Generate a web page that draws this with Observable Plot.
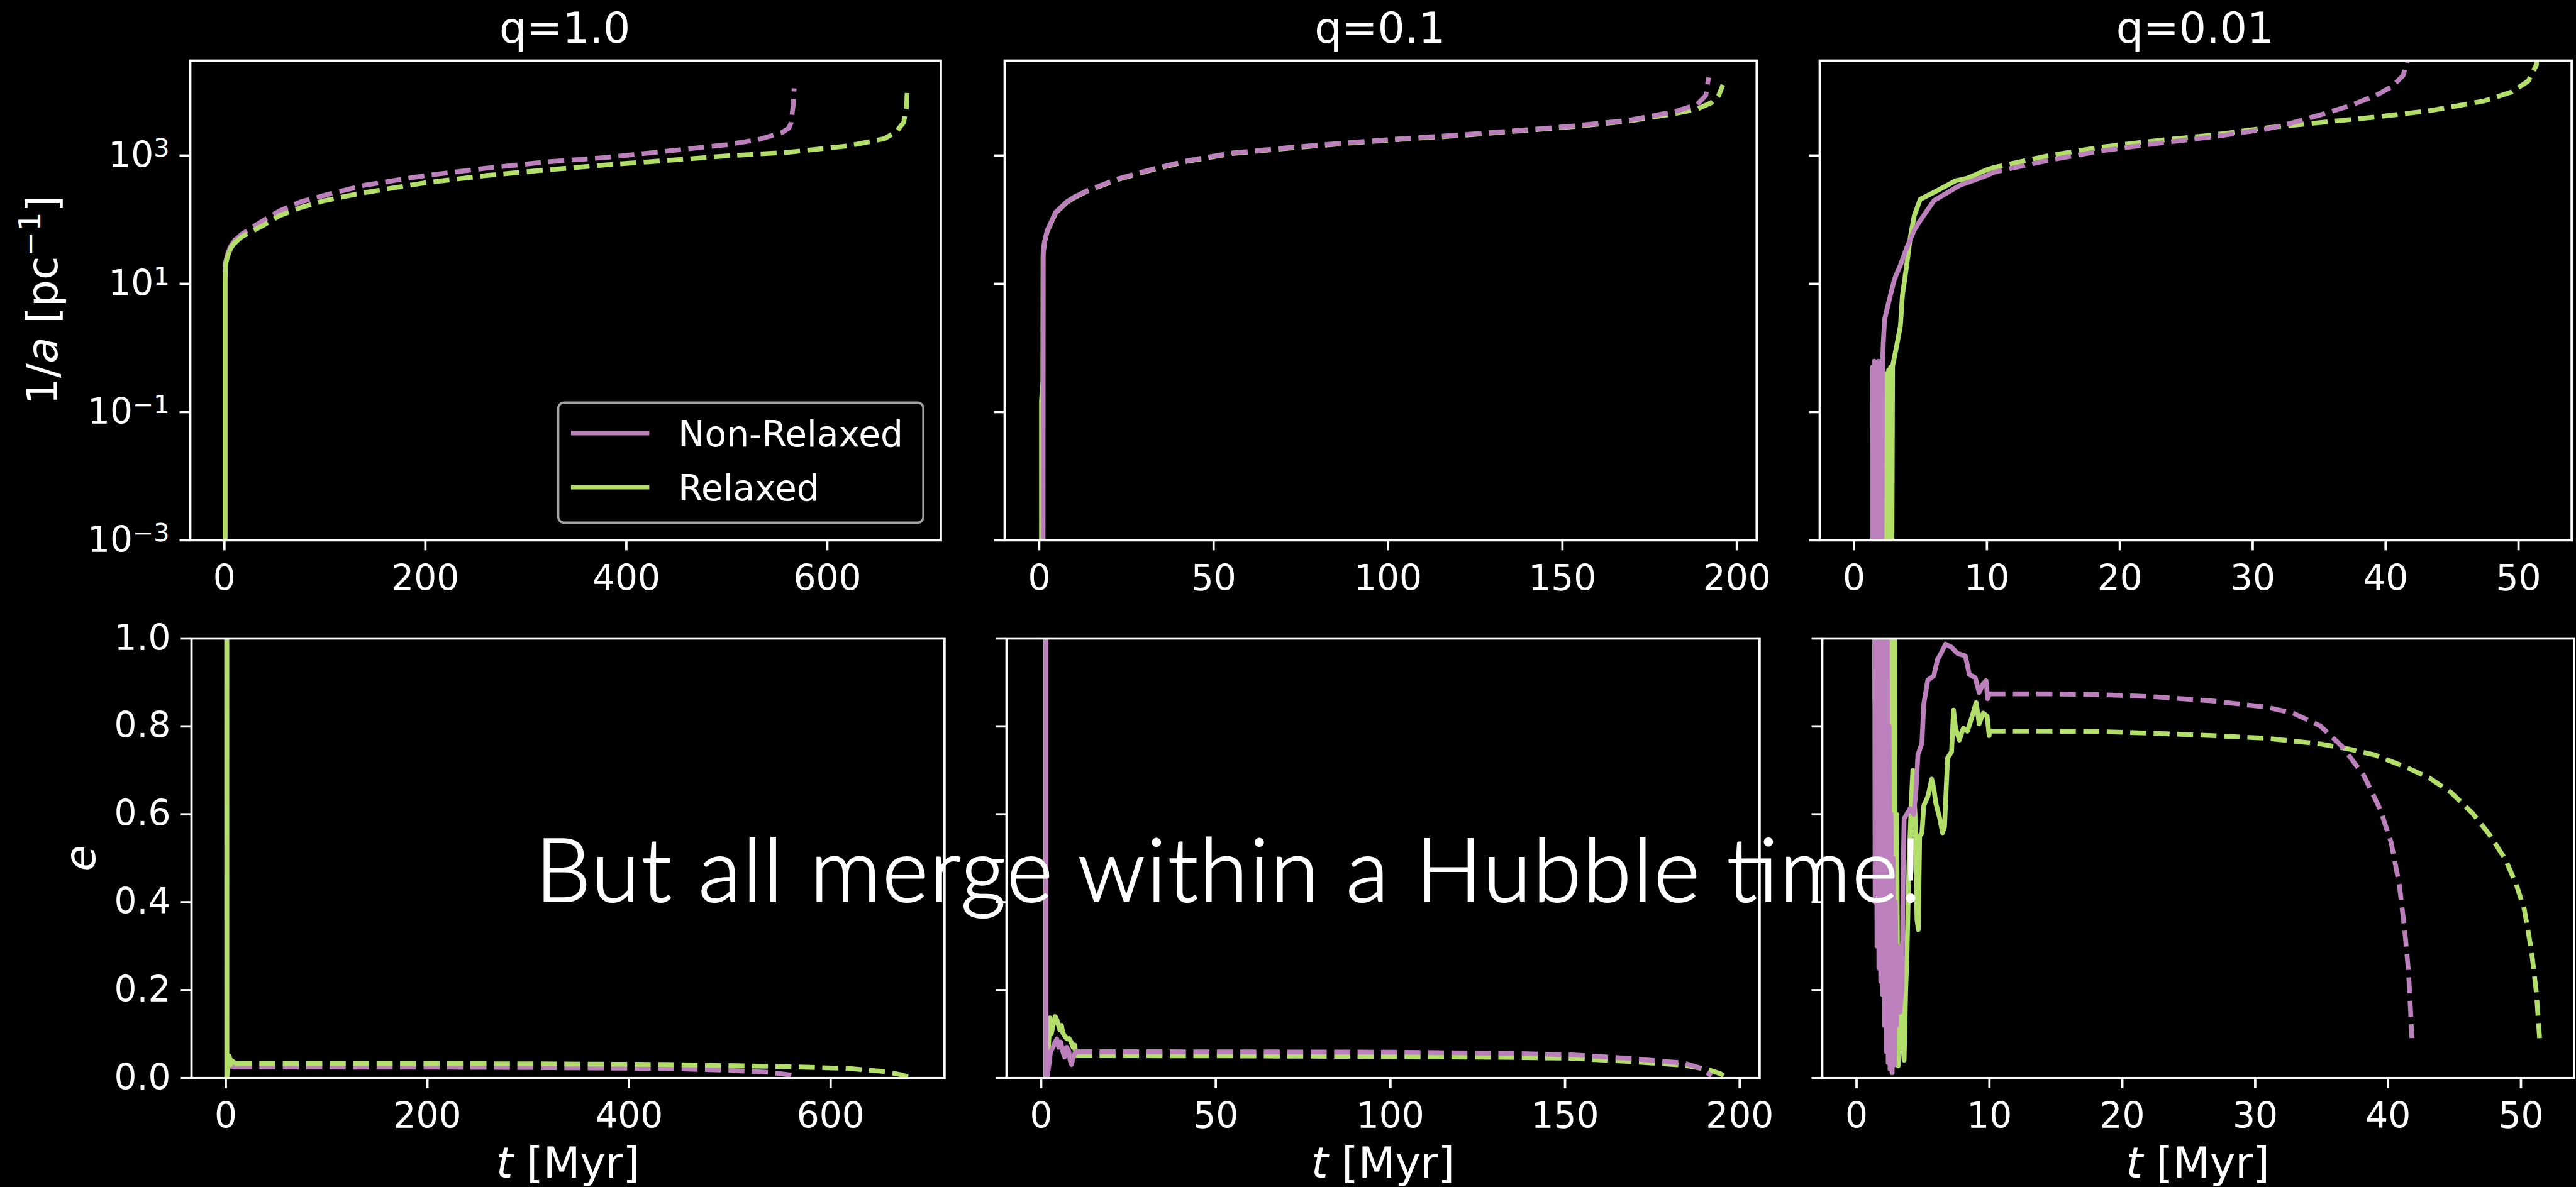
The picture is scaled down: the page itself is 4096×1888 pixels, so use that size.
<!DOCTYPE html>
<html><head><meta charset="utf-8">
<script src="https://cdn.jsdelivr.net/npm/d3@7"></script>
<script src="https://cdn.jsdelivr.net/npm/@observablehq/plot@0.6"></script>
<style>
html,body{margin:0;padding:0;background:#000;overflow:hidden;}
#fig{position:relative;width:4096px;height:1888px;background:#000;overflow:hidden;}
</style></head><body><div id="fig"></div>
<script>
// ---------------- DATA ----------------
const massRatios = ["q=1.0", "q=0.1", "q=0.01"];
const seriesNames = ["Non-Relaxed", "Relaxed"];
const seriesColors = ["#bc80bd", "#b3de69"];

const xTicksQ1 = [0, 200, 400, 600];
const xTicksQ01 = [0, 50, 100, 150, 200];
const xTicksQ001 = [0, 10, 20, 30, 40, 50];
const yTicksInvA = [1e-3, 1e-1, 1e1, 1e3];
const yTickLabelsInvA = ["10^−3", "10^−1", "10^1", "10^3"];
const yTicksEcc = [0, 0.2, 0.4, 0.6, 0.8, 1.0];
const yTickLabelsEcc = ["0.0", "0.2", "0.4", "0.6", "0.8", "1.0"];
const xDomainQ1 = [-34, 713], xDomainQ01 = [-9.9, 205.7], xDomainQ001 = [-2.58, 54.0];
const yDomainInvA = [1e-3, 30200], yDomainEcc = [0, 1];

// 1/a [pc^-1] vs t [Myr]; "sim" = solid (N-body), "ext" = dashed (extrapolation)
const invA_q1_nr_sim = [[0.6,1e-5],[0.6,11],[0.75,15],[1.3,22],[3.2,29],[6,38],[9.3,45],[10,47]];
const invA_q1_nr_ext = [[10,47],[17,59],[39,98],[55,138],[76,190],[100,241],[139,343],[199,486],[259,631],[320,795],[380,935],[440,1170],[500,1475],[531,1770],[555,2290],[562,2710],[564,3290],[566,6000],[567,11200]];
const invA_q1_r_sim = [[0.65,1e-5],[0.65,11],[0.8,15],[1.4,21],[3.4,27.5],[6,35],[9.3,42],[10,43]];
const invA_q1_r_ext = [[10,43],[17,54],[39,82],[55,116],[76,155],[100,199],[139,264],[199,375],[259,486],[320,597],[380,716],[440,836],[500,989],[561,1125],[621,1420],[657,1836],[669,2390],[676,3290],[679,6000],[679.5,11200]];

const invA_q01_nr_sim = [[1.1,1e-5],[1.14,30],[1.5,45],[2.3,68],[4.7,130],[8,192],[10,224]];
const invA_q01_nr_ext = [[10,224],[13.7,283],[22.6,433],[32.4,612],[42.2,826],[55.2,1096],[71.5,1331],[87.7,1575],[104,1836],[120.3,2091],[136.5,2443],[152.8,2884],[169.1,3550],[182.1,4842],[188.6,6266],[191.1,8644],[191.9,16500]];
const invA_q01_r_sim = [[0.65,1e-5],[0.65,0.15],[1.05,0.3],[1.1,28],[1.5,44],[2.3,66],[4.7,127],[8,188],[10,220]];
const invA_q01_r_ext = [[10,220],[13.7,278],[22.6,425],[32.4,600],[42.2,810],[55.2,1075],[71.5,1305],[87.7,1545],[104,1800],[120.3,2050],[136.5,2395],[152.8,2820],[169.1,3450],[182.1,4500],[188.6,5300],[192.7,6680],[194.8,8650],[196,12700]];

const invA_q001_nr_sim = [[1.35,1e-5],[1.38,0.5],[1.45,1e-5],[1.52,0.62],[1.6,1e-5],[1.68,0.6],[1.76,1e-5],[1.84,0.62],[1.92,1e-5],[2.0,0.6],[2.08,1e-5],[2.15,0.62],[2.2,1.2],[2.3,2.8],[2.6,5.1],[3.04,11.8],[3.49,19.6],[3.94,35.4],[4.53,69],[4.98,97],[6.02,199],[7.96,344],[9.0,410],[10,490]];
const invA_q001_nr_ext = [[10,490],[10.57,553],[14.67,847],[18.77,1199],[22.87,1556],[26.97,1960],[31.06,2600],[33.1,3290],[35.16,4360],[37.2,5880],[39.26,8650],[40.49,11970],[41.31,17600],[41.64,29500],[41.8,100000]];
const invA_q001_r_sim = [[1.36,1e-5],[1.38,0.136],[1.4,1e-5],[2.15,1e-5],[2.2,0.3],[2.25,1e-5],[2.32,0.35],[2.38,1e-5],[2.46,0.4],[2.52,1e-5],[2.6,0.45],[2.66,1e-5],[2.75,0.5],[2.82,1e-5],[2.9,0.52],[3.19,1.03],[3.49,2.2],[3.64,6.6],[3.94,18],[4.24,54],[4.53,115],[4.98,208],[6.02,267],[7.66,406],[8.53,444],[10,600]];
const invA_q001_r_ext = [[10,600],[10.57,655],[14.67,1002],[18.77,1366],[22.87,1720],[26.97,2090],[31.06,2710],[35.16,3290],[39.26,3990],[43.36,5030],[47.45,7130],[49.5,9860],[50.73,14500],[51.35,25900],[51.45,100000]];

// e vs t [Myr]
const ecc_q1_nr_sim = [[0.9,1.3],[0.95,0],[1.5,0.01],[2.5,0.03],[4,0.028],[6,0.026],[8,0.025],[10,0.025]];
const ecc_q1_nr_ext = [[10,0.025],[100,0.025],[200,0.0248],[300,0.024],[437,0.022],[497,0.018],[540,0.013],[560,0.007],[566,0.002]];
const ecc_q1_r_sim = [[1.0,1.3],[1.05,0],[1.5,0.02],[2.5,0.045],[3.5,0.05],[4.5,0.03],[6,0.04],[8,0.036],[10,0.033]];
const ecc_q1_r_ext = [[10,0.033],[100,0.033],[200,0.033],[300,0.0325],[437,0.031],[557,0.026],[617,0.022],[653,0.015],[671,0.007],[677,0.002]];

const ecc_q01_nr_sim = [[1.4,1.3],[1.4,0.007],[1.7,0.0],[2.2,0.028],[2.7,0.06],[3.3,0.069],[3.9,0.08],[4.5,0.089],[5.0,0.07],[5.6,0.082],[6.2,0.06],[6.7,0.048],[7.3,0.07],[7.9,0.062],[8.3,0.04],[8.7,0.031],[9.2,0.05],[9.6,0.055],[10,0.06]];
const ecc_q01_nr_ext = [[10,0.06],[50,0.0598],[100,0.059],[135.6,0.056],[151.8,0.053],[168,0.045],[184.2,0.034],[189,0.022],[191.9,0.005]];
const ecc_q01_r_sim = [[1.3,1.3],[1.3,0.0],[1.8,0.02],[2.5,0.137],[2.9,0.1],[3.3,0.116],[4.0,0.14],[4.5,0.133],[5.3,0.11],[5.8,0.12],[6.2,0.103],[6.8,0.095],[7.4,0.089],[8.0,0.09],[8.6,0.082],[9.1,0.07],[9.6,0.075],[10,0.051]];
const ecc_q01_r_ext = [[10,0.051],[50,0.0505],[100,0.049],[135.6,0.047],[151.8,0.045],[168,0.038],[184.2,0.029],[190.7,0.020],[194.5,0.01],[196,0.002]];

const ecc_q001_nr_sim = [[1.35,1.3],[1.4,0.4],[1.47,1.3],[1.54,0.3],[1.61,1.3],[1.68,0.25],[1.75,1.3],[1.82,0.22],[1.89,1.3],[1.96,0.19],[2.03,1.3],[2.1,0.12],[2.17,1.3],[2.24,0.06],[2.31,1.1],[2.38,0.035],[2.45,0.8],[2.52,0.02],[2.6,0.6],[2.68,0.012],[2.76,0.5],[2.84,0.03],[2.92,0.4],[3.0,0.12],[3.1,0.3],[3.25,0.15],[3.43,0.205],[3.5,0.45],[3.58,0.59],[4.02,0.613],[4.3,0.6],[4.47,0.653],[4.62,0.735],[4.92,0.762],[5.06,0.851],[5.36,0.905],[5.81,0.915],[6.1,0.953],[6.25,0.96],[6.7,0.987],[7.15,0.98],[7.6,0.966],[8.19,0.96],[8.49,0.918],[8.93,0.911],[9.23,0.877],[9.53,0.897],[9.75,0.904],[9.86,0.863],[10,0.874]];
const ecc_q001_nr_ext = [[10,0.874],[14.45,0.874],[18.54,0.872],[22.63,0.867],[26.73,0.858],[30.82,0.844],[32.86,0.83],[34.91,0.801],[36.55,0.754],[38.18,0.688],[39.41,0.611],[40.23,0.536],[40.84,0.441],[41.25,0.337],[41.54,0.242],[41.7,0.148],[41.79,0.091]];
const ecc_q001_r_sim = [[1.36,1.3],[1.38,0.86],[1.4,1.3],[2.15,1.3],[2.2,0.55],[2.26,1.3],[2.32,0.52],[2.38,1.3],[2.46,0.5],[2.54,1.3],[2.62,0.45],[2.7,1.3],[2.78,0.35],[2.86,1.0],[2.94,0.2],[3.02,0.6],[3.13,0.028],[3.25,0.3],[3.4,0.1],[3.58,0.041],[3.7,0.2],[3.8,0.286],[3.95,0.49],[4.17,0.66],[4.24,0.70],[4.4,0.6],[4.55,0.36],[4.65,0.338],[4.75,0.55],[4.92,0.558],[5.06,0.62],[5.36,0.64],[5.66,0.68],[5.81,0.66],[5.96,0.626],[6.25,0.592],[6.47,0.558],[6.62,0.572],[6.85,0.728],[7.15,0.742],[7.3,0.837],[7.45,0.796],[7.74,0.769],[8.04,0.796],[8.34,0.789],[8.64,0.817],[9.0,0.854],[9.23,0.806],[9.53,0.83],[9.83,0.823],[9.98,0.779],[10,0.789]];
const ecc_q001_r_ext = [[10,0.789],[14.45,0.789],[18.54,0.788],[22.63,0.784],[26.73,0.779],[30.82,0.773],[34.91,0.76],[36.96,0.749],[39.0,0.735],[41.45,0.706],[43.09,0.683],[44.73,0.65],[46.37,0.602],[47.6,0.555],[48.82,0.498],[49.64,0.441],[50.25,0.384],[50.79,0.29],[51.16,0.195],[51.4,0.091]];

const message = "But all merge within a Hubble time!";

// ---------------- LAYOUT ----------------
const FONT = "'DejaVu Sans', sans-serif";
const FS = 56.6, FS_LABEL = 68;
const LW = 7.6, AXW = 3.7, TICK = 16.5;
const fig = document.getElementById("fig");

const rows = {top: {y0: 96.1, y1: 859.0}, bottom: {y0: 1015.2, y1: 1714.5}};
const colsTop = [[301.5, 1495.0], [1596.6, 2792.4], [2892.6, 4088.2]];
const colsBot = [[304.3, 1501.7], [1600.3, 2797.7], [2896.9, 4092.4]];

// split "base^sup" text into a base and a raised, smaller superscript (mathtext style)
function superscriptify(textEl) {
  const s = textEl.textContent;
  const k = s.indexOf("^");
  if (k < 0) return;
  const base = s.slice(0, k), sup = s.slice(k + 1);
  while (textEl.firstChild) textEl.removeChild(textEl.firstChild);
  const ns = "http://www.w3.org/2000/svg";
  const t1 = document.createElementNS(ns, "tspan"); t1.textContent = base; textEl.appendChild(t1);
  const t2 = document.createElementNS(ns, "tspan"); t2.textContent = sup;
  t2.setAttribute("dy", "-17"); t2.style.fontSize = "70%";
  textEl.appendChild(t2);
}

// background text layer
const bgLayer = d3.select(fig).append("svg")
  .attr("width", 4096).attr("height", 1888)
  .style("position", "absolute").style("left", "0px").style("top", "0px");

function makePanel({x0, x1, y0, y1, xDomain, xTicks, yType, yDomain, yTicks, yLabels, showY, runs}) {
  const mL = showY ? 250 : 40, mR = 8, mT = 10, mB = 100;
  const w = x1 - x0 + mL + mR, h = y1 - y0 + mT + mB;
  const marks = [
    Plot.axisX({ticks: xTicks, tickSize: TICK, tickPadding: 22.8, strokeWidth: AXW, fontSize: FS, label: null, tickFormat: d => String(d)}),
    Plot.axisY({ticks: yTicks, tickSize: TICK, tickPadding: 16.5, strokeWidth: AXW, fontSize: FS, label: null,
      tickFormat: showY ? (d => yLabels[yTicks.findIndex(t => Math.abs(t - d) <= 1e-9 * Math.max(1, Math.abs(t)))]) : (() => "")})
  ];
  for (const r of runs) {
    marks.push(Plot.line(r.sim, {x: d => d[0], y: d => d[1], stroke: r.color, strokeWidth: LW, strokeLinecap: "square", strokeLinejoin: "round", clip: true}));
    marks.push(Plot.line(r.ext, {x: d => d[0], y: d => d[1], stroke: r.color, strokeWidth: LW, strokeDasharray: "25.5,11.8", strokeLinecap: "butt", strokeLinejoin: "round", clip: true}));
  }
  marks.push(Plot.frame({stroke: "white", strokeWidth: AXW}));
  const svg = Plot.plot({
    width: w, height: h, marginLeft: mL, marginRight: mR, marginTop: mT, marginBottom: mB,
    x: {domain: xDomain},
    y: {type: yType, domain: yDomain},
    style: {background: "none", color: "white", fontFamily: FONT, fontSize: FS + "px", overflow: "visible", position: "absolute", left: (x0 - mL) + "px", top: (y0 - mT) + "px", maxWidth: "none"},
    marks
  });
  svg.querySelectorAll("text").forEach(superscriptify);
  fig.appendChild(svg);
}

const P = seriesColors[0], G = seriesColors[1];
const xDomains = [xDomainQ1, xDomainQ01, xDomainQ001];
const xTickSets = [xTicksQ1, xTicksQ01, xTicksQ001];
const topRuns = [
  [{color: P, sim: invA_q1_nr_sim, ext: invA_q1_nr_ext}, {color: G, sim: invA_q1_r_sim, ext: invA_q1_r_ext}],
  [{color: G, sim: invA_q01_r_sim, ext: invA_q01_r_ext}, {color: P, sim: invA_q01_nr_sim, ext: invA_q01_nr_ext}],
  [{color: G, sim: invA_q001_r_sim, ext: invA_q001_r_ext}, {color: P, sim: invA_q001_nr_sim, ext: invA_q001_nr_ext}]
];
const botRuns = [
  [{color: P, sim: ecc_q1_nr_sim, ext: ecc_q1_nr_ext}, {color: G, sim: ecc_q1_r_sim, ext: ecc_q1_r_ext}],
  [{color: G, sim: ecc_q01_r_sim, ext: ecc_q01_r_ext}, {color: P, sim: ecc_q01_nr_sim, ext: ecc_q01_nr_ext}],
  [{color: G, sim: ecc_q001_r_sim, ext: ecc_q001_r_ext}, {color: P, sim: ecc_q001_nr_sim, ext: ecc_q001_nr_ext}]
];

for (let c = 0; c < 3; c++) {
  makePanel({x0: colsTop[c][0], x1: colsTop[c][1], y0: rows.top.y0, y1: rows.top.y1,
    xDomain: xDomains[c], xTicks: xTickSets[c], yType: "log", yDomain: yDomainInvA, yTicks: yTicksInvA, yLabels: yTickLabelsInvA, showY: c === 0, runs: topRuns[c]});
  makePanel({x0: colsBot[c][0], x1: colsBot[c][1], y0: rows.bottom.y0, y1: rows.bottom.y1,
    xDomain: xDomains[c], xTicks: xTickSets[c], yType: "linear", yDomain: yDomainEcc, yTicks: yTicksEcc, yLabels: yTickLabelsEcc, showY: c === 0, runs: botRuns[c]});
}

// titles and axis labels
for (let c = 0; c < 3; c++) {
  bgLayer.append("text").attr("x", (colsTop[c][0] + colsTop[c][1]) / 2).attr("y", 67.5)
    .attr("text-anchor", "middle").attr("fill", "white")
    .style("font-family", FONT).style("font-size", FS_LABEL + "px").text(massRatios[c]);
  const xl = bgLayer.append("text").attr("x", (colsBot[c][0] + colsBot[c][1]) / 2).attr("y", 1873)
    .attr("text-anchor", "middle").attr("fill", "white")
    .style("font-family", FONT).style("font-size", FS_LABEL + "px");
  xl.append("tspan").style("font-style", "italic").text("t");
  xl.append("tspan").text(" [Myr]");
}
const yl1 = bgLayer.append("text").attr("transform", `translate(67,477.6) rotate(-90)`)
  .attr("text-anchor", "middle").attr("dominant-baseline", "central").attr("fill", "white")
  .style("font-family", FONT).style("font-size", FS_LABEL + "px");
yl1.append("tspan").text("1/");
yl1.append("tspan").style("font-style", "italic").text("a");
yl1.append("tspan").text(" [pc");
yl1.append("tspan").attr("dy", -20).style("font-size", "70%").text("−1");
yl1.append("tspan").attr("dy", 20).text("]");
bgLayer.append("text").attr("transform", `translate(127.4,1364.8) rotate(-90)`)
  .attr("text-anchor", "middle").attr("dominant-baseline", "central").attr("fill", "white")
  .style("font-family", FONT).style("font-size", FS_LABEL + "px").style("font-style", "italic").text("e");

// overlay layer: legend and the message
const overlay = d3.select(fig).append("svg").attr("width", 4096).attr("height", 1888)
  .style("position", "absolute").style("left", "0px").style("top", "0px").style("pointer-events", "none");
overlay.append("rect").attr("x", 887.6).attr("y", 640.3).attr("width", 580.6).attr("height", 191.1)
  .attr("rx", 9.4).attr("fill", "black").attr("fill-opacity", 0.8).attr("stroke", "#a3a3a3").attr("stroke-width", 3.6);
seriesNames.forEach((name, i) => {
  const y = 688.8 + i * 86;
  overlay.append("line").attr("x1", 907.9).attr("x2", 1032.4).attr("y1", y).attr("y2", y)
    .attr("stroke", seriesColors[i]).attr("stroke-width", LW);
  overlay.append("text").attr("x", 1078.2).attr("y", 709.6 + i * 86).attr("fill", "white")
    .style("font-family", FONT).style("font-size", FS + "px").text(name);
});
overlay.append("text")
  .attr("x", 851).attr("y", 1434)
  .attr("fill", "white").attr("stroke", "white").attr("stroke-width", 2.2)
  .attr("textLength", 3056 - 851).attr("lengthAdjust", "spacing")
  .style("font-family", "Lato, 'Open Sans', sans-serif").style("font-weight", 300)
  .style("font-size", "140px")
  .text(message);
</script></body></html>
